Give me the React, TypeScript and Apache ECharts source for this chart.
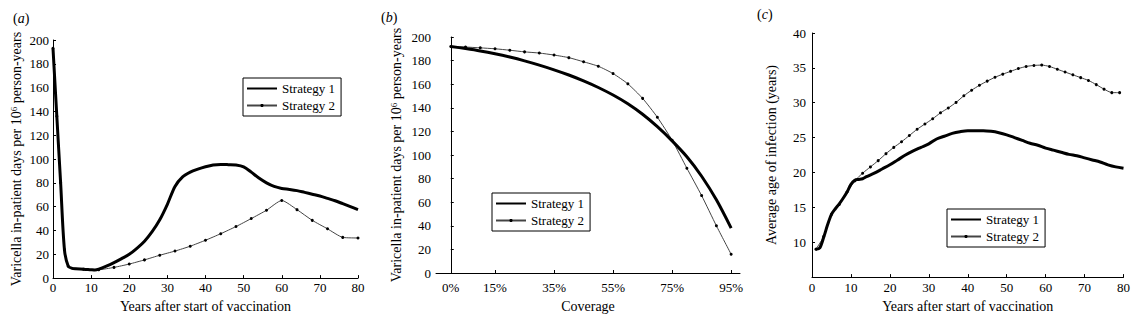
import React, { useEffect, useRef } from "react";
import * as echarts from "echarts";

// ---------- Panel (a): in-patient days vs years ----------
const aS1Years = [0, 1, 2, 3, 4, 5, 6, 8, 10, 11, 12, 14, 16, 18, 20, 22, 24, 26, 28, 30, 32, 34, 36, 38, 40, 42, 44, 46, 48, 50, 52, 54, 56, 58, 60, 62, 64, 66, 68, 70, 72, 74, 76, 78, 80];
const aS1Values = [193, 136, 80, 24, 10, 8.2, 7.8, 7.5, 7, 6.8, 7.5, 10, 13, 16.4, 20, 25, 31, 39, 49, 62, 77, 85, 89, 91.5, 93.5, 95, 95.5, 95.3, 95, 93.5, 89, 84, 80, 77, 75.3, 74.5, 73.5, 72, 70.5, 69, 67, 65, 62.5, 60, 57.5];
const aS2Years = [0, 1, 2, 3, 4, 8, 12, 16, 20, 24, 28, 32, 36, 40, 44, 48, 52, 56, 60, 64, 68, 72, 76, 80];
const aS2Values = [193, 136, 80, 24, 10, 7.5, 7.1, 9, 11.8, 15.3, 19.2, 22.7, 26.8, 31.8, 37.3, 43.3, 50, 57, 65.2, 57.5, 48.5, 41.4, 34.2, 33.7];

// ---------- Panel (b): in-patient days vs coverage ----------
const bCoverage = [0, 5, 10, 15, 20, 25, 30, 35, 40, 45, 50, 55, 60, 65, 70, 75, 80, 85, 90, 95];
const bS1Values = [192, 190.2, 188.2, 185.8, 183, 179.8, 176.2, 172.2, 167.8, 162.8, 157.2, 150.8, 143.4, 134.5, 124, 112, 98.5, 82, 62, 38];
const bS2Values = [192, 191.5, 190.8, 190, 188.8, 187.4, 186.4, 184.7, 182.5, 179, 175.2, 169, 160.3, 148, 132, 112.5, 88.8, 65.6, 40, 15.9];
const bTickValues = [0, 15, 35, 55, 75, 95];

// ---------- Panel (c): average age of infection ----------
const cS1Years = [1, 2, 3, 4, 5, 6, 7, 8, 9, 10, 11, 12, 13, 14, 16, 18, 20, 22, 24, 26, 28, 30, 32, 34, 36, 38, 40, 42, 44, 46, 48, 50, 52, 54, 56, 58, 60, 62, 64, 66, 68, 70, 72, 74, 76, 78, 80];
const cS1Values = [9, 9.2, 10.7, 12.5, 14, 14.8, 15.5, 16.3, 17.2, 18.3, 18.9, 19, 19.1, 19.4, 19.9, 20.5, 21.1, 21.8, 22.5, 23.1, 23.6, 24.1, 24.8, 25.2, 25.6, 25.85, 26, 26, 26, 25.9, 25.7, 25.4, 25, 24.6, 24.2, 23.9, 23.5, 23.2, 22.9, 22.6, 22.4, 22.1, 21.8, 21.5, 21.1, 20.8, 20.6];
const cS2Years = [1, 3, 5, 7, 9, 11, 13, 15, 17, 19, 21, 23, 25, 27, 29, 31, 33, 35, 37, 39, 41, 43, 45, 47, 49, 51, 53, 55, 57, 59, 61, 63, 65, 67, 69, 71, 73, 75, 77, 79];
const cS2Values = [9, 10.8, 14, 15.4, 17.2, 18.8, 19.9, 20.8, 21.7, 22.7, 23.6, 24.4, 25.3, 26.2, 26.95, 27.7, 28.55, 29.25, 30.05, 31, 31.8, 32.5, 33.1, 33.65, 34.1, 34.5, 34.9, 35.2, 35.35, 35.4, 35.2, 34.8, 34.4, 34.0, 33.6, 33.2, 32.6, 31.95, 31.45, 31.45];

const seriesNames = ["Strategy 1", "Strategy 2"];
const panelLabels = ["a", "b", "c"];

const FONT = "Liberation Serif, Times New Roman, serif";

const zip = (xs: number[], ys: number[]) => xs.map((x, i) => [x, ys[i]]);

export default function App() {
  const ref = useRef<HTMLDivElement>(null);

  useEffect(() => {
    document.body.style.margin = "0";
    if (!ref.current) return;
    const chart = echarts.init(ref.current, null, { renderer: "svg" });

    const tickLabel = { fontFamily: FONT, fontSize: 13, color: "#000" };
    const nameStyle = {
      fontFamily: FONT,
      fontSize: 14,
      color: "#000",
      rich: {
        sup: { fontFamily: FONT, fontSize: 9, color: "#000", verticalAlign: "top", lineHeight: 14 },
      },
    };
    const axisLine = { show: true, lineStyle: { color: "#000", width: 1 } };
    const axisTick = { show: true, inside: true, length: 3, lineStyle: { color: "#000" } };
    const yName = "Varicella in-patient days per 10{sup|6} person-years";

    const thick = (name: string, x: number, y: number, data: number[][]) => ({
      name,
      type: "line",
      xAxisIndex: x,
      yAxisIndex: y,
      data,
      smooth: 0.3,
      symbol: "none",
      lineStyle: { color: "#000", width: 3 },
      itemStyle: { color: "#000" },
      z: 3,
    });
    const thin = (name: string, x: number, y: number, data: number[][]) => ({
      name,
      type: "line",
      xAxisIndex: x,
      yAxisIndex: y,
      data,
      smooth: 0.2,
      symbol: "circle",
      symbolSize: 3,
      lineStyle: { color: "#444", width: 1 },
      itemStyle: { color: "#000" },
      z: 2,
    });
    const legend = (left: number, top: number) => ({
      data: [{ name: seriesNames[0], itemStyle: { opacity: 0 } }, { name: seriesNames[1] }],
      orient: "vertical",
      left,
      top,
      itemWidth: 30,
      itemHeight: 4,
      itemGap: 4,
      padding: [4, 6, 4, 3],
      borderColor: "#000",
      borderWidth: 1,
      backgroundColor: "#fff",
      textStyle: { fontFamily: FONT, fontSize: 13, color: "#000" },
      selectedMode: false,
    });

    const option = {
      animation: false,
      backgroundColor: "#fff",
      title: panelLabels.map((l, i) => ({
        text: "({i|" + l + "})",
        left: [8, 376, 752][i],
        top: [6, 5, 2][i],
        textStyle: {
          fontFamily: FONT,
          fontSize: 14,
          fontWeight: "normal",
          color: "#000",
          rich: { i: { fontFamily: FONT, fontSize: 14, fontStyle: "italic", color: "#000" } },
        },
      })),
      legend: [legend(243, 78), legend(492, 193), legend(947, 209)],
      grid: [
        { left: 53, top: 40, width: 305, height: 241 },
        { left: 436, top: 37, width: 304, height: 244 },
        { left: 812, top: 33, width: 314, height: 248 },
      ],
      xAxis: [
        {
          type: "value",
          gridIndex: 0,
          min: 0,
          max: 80,
          interval: 10,
          name: "Years after start of vaccination",
          nameLocation: "middle",
          nameGap: 14,
          nameTextStyle: nameStyle,
          axisLine,
          axisTick,
          axisLabel: { ...tickLabel, margin: 3 },
          splitLine: { show: false },
        },
        {
          type: "value",
          gridIndex: 1,
          min: -5,
          max: 98,
          name: "Coverage",
          nameLocation: "middle",
          nameGap: 26,
          nameTextStyle: nameStyle,
          axisLine,
          axisTick: { ...axisTick, customValues: bTickValues },
          axisLabel: { ...tickLabel, margin: 8, customValues: bTickValues, formatter: (v: number) => v + "%" },
          splitLine: { show: false },
        },
        {
          type: "value",
          gridIndex: 2,
          min: 0,
          max: 80,
          interval: 10,
          name: "Years after start of vaccination",
          nameLocation: "middle",
          nameGap: 20,
          nameTextStyle: nameStyle,
          axisLine,
          axisTick,
          axisLabel: { ...tickLabel, margin: 4 },
          splitLine: { show: false },
        },
      ],
      yAxis: [
        {
          type: "value",
          gridIndex: 0,
          min: 0,
          max: 200,
          interval: 20,
          name: yName,
          nameLocation: "middle",
          nameGap: 30,
          nameTextStyle: nameStyle,
          axisLine,
          axisTick,
          axisLabel: { ...tickLabel, margin: 4 },
          splitLine: { show: false },
        },
        {
          type: "value",
          gridIndex: 1,
          min: 0,
          max: 200,
          interval: 20,
          name: yName,
          nameLocation: "middle",
          nameGap: 33,
          nameTextStyle: nameStyle,
          axisLine,
          axisTick,
          axisLabel: { ...tickLabel, margin: 5 },
          splitLine: { show: false },
        },
        {
          type: "value",
          gridIndex: 2,
          min: 5,
          max: 40,
          interval: 5,
          name: "Average age of infection (years)",
          nameLocation: "middle",
          nameGap: 34,
          nameTextStyle: nameStyle,
          axisLine,
          axisTick,
          axisLabel: { ...tickLabel, margin: 6, formatter: (v: number) => (v === 5 ? "" : String(v)) },
          splitLine: { show: false },
        },
      ],
      series: [
        thick(seriesNames[0], 0, 0, zip(aS1Years, aS1Values)),
        thin(seriesNames[1], 0, 0, zip(aS2Years, aS2Values)),
        thick(seriesNames[0], 1, 1, zip(bCoverage, bS1Values)),
        thin(seriesNames[1], 1, 1, zip(bCoverage, bS2Values)),
        thick(seriesNames[0], 2, 2, zip(cS1Years, cS1Values)),
        thin(seriesNames[1], 2, 2, zip(cS2Years, cS2Values)),
      ],
    };

    chart.setOption(option as any);
    return () => chart.dispose();
  }, []);

  return <div ref={ref} style={{ width: 1133, height: 318 }} />;
}
